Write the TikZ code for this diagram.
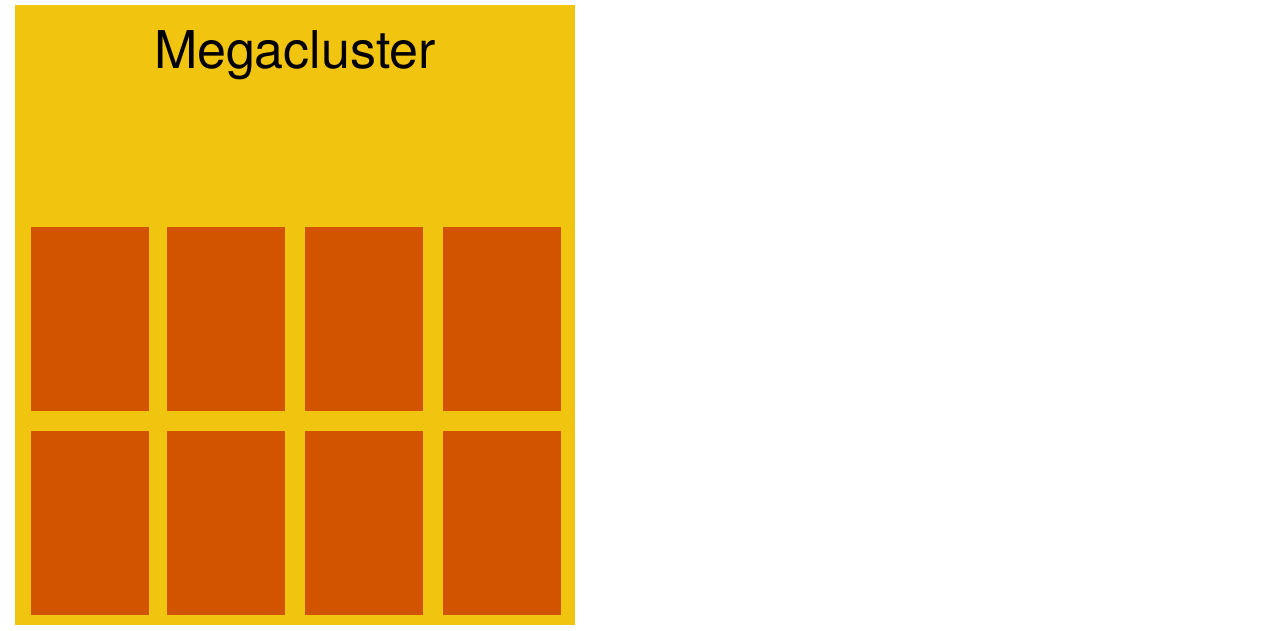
\documentclass[tikz,border=0pt]{standalone}
\usepackage{fontspec}
\setmainfont{TeX Gyre Heros}
\definecolor{sunflower}{HTML}{F1C40F}
\definecolor{pumpkin}{HTML}{D35400}
\begin{document}
\begin{tikzpicture}[x=1pt, y=-1pt]
				\useasboundingbox (0,0) rectangle (1266,630);
				\node[rectangle, inner sep=0, minimum width=560pt, minimum height=620pt, fill=sunflower] (mega) at (295,315) {};
				\node[anchor=base, inner sep=0, font=\fontsize{52}{62}\selectfont] (megalabel) at (295,68) {Megacluster};

				% Top row
				\node[rectangle, inner sep=0, minimum width=118pt, minimum height=184pt, fill=pumpkin] (ca) at (90,319) {};
				\node[rectangle, inner sep=0, minimum width=118pt, minimum height=184pt, fill=pumpkin] (cb) at (226,319) {};
				\node[rectangle, inner sep=0, minimum width=118pt, minimum height=184pt, fill=pumpkin] (cc) at (364,319) {};
				\node[rectangle, inner sep=0, minimum width=118pt, minimum height=184pt, fill=pumpkin] (cd) at (502,319) {};

				% Bottom row
				\node[rectangle, inner sep=0, minimum width=118pt, minimum height=184pt, fill=pumpkin] (ce) at (90,523) {};
				\node[rectangle, inner sep=0, minimum width=118pt, minimum height=184pt, fill=pumpkin] (cf) at (226,523) {};
				\node[rectangle, inner sep=0, minimum width=118pt, minimum height=184pt, fill=pumpkin] (cg) at (364,523) {};
				\node[rectangle, inner sep=0, minimum width=118pt, minimum height=184pt, fill=pumpkin] (ch) at (502,523) {};
			\end{tikzpicture}
\end{document}
